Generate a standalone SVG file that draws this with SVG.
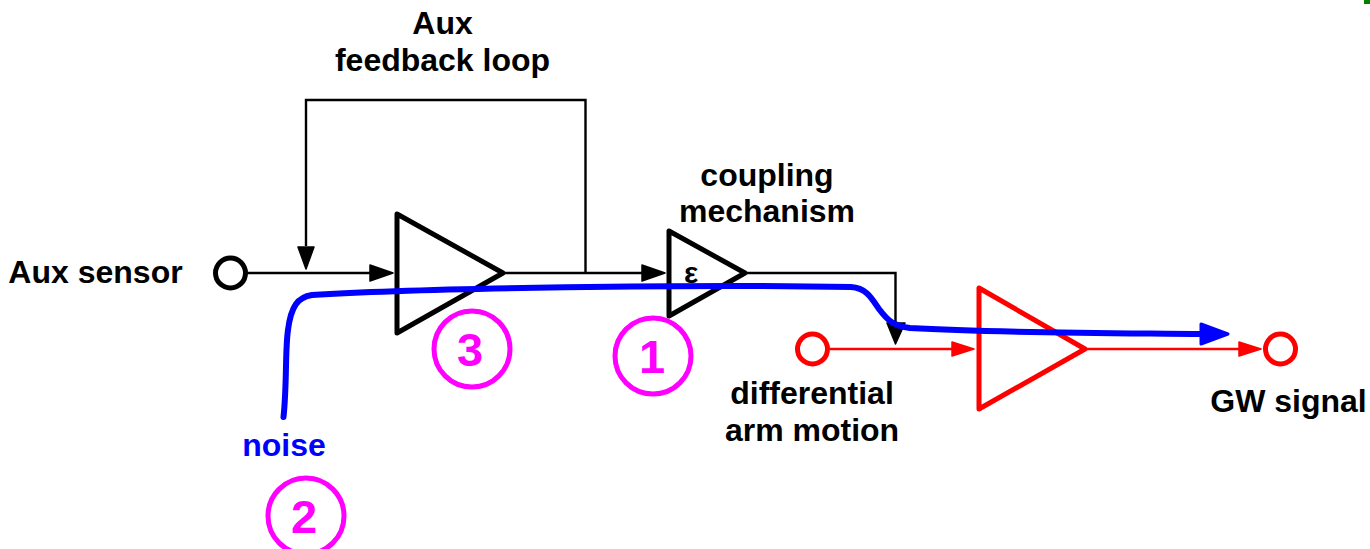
<svg xmlns="http://www.w3.org/2000/svg" width="1370" height="549" viewBox="0 0 1370 549">
<style>
text{font-family:"Liberation Sans",Arial,sans-serif;font-weight:700;font-size:32px;text-anchor:middle;fill:#000}
.tri{fill:none;stroke:#000;stroke-width:5;stroke-linejoin:round}
.red{stroke:#f00}
.port{fill:#fff;stroke:#000;stroke-width:5}
.w{fill:none;stroke:#000;stroke-width:2.4}
.r{fill:none;stroke:#f00;stroke-width:2.4}
.head{fill:#000;stroke:#000;stroke-width:1.5;stroke-linejoin:round}
.rhead{fill:#f00;stroke:#f00;stroke-width:1.5;stroke-linejoin:round}
.mark{fill:none;stroke:#f0f;stroke-width:5}
.mt{fill:#f0f;font-size:47px}
</style>
<rect x="1364" y="0" width="6" height="4" fill="#008000"/>
<g id="connectors">
<path class="w" d="M247 273H372M306 246V100H585.500V273M505 273H646M745 273H895.500V325"/>
<path class="r" d="M830 349H952M1086 349H1240"/>
<path class="head" d="M370 265L393 273L370 281ZM298 247H314L306 269ZM642 265L665 273L642 281ZM887 323H905L895.500 344Z"/>
<path class="rhead" d="M952 342L974 349L952 356ZM1239 342L1261 349L1239 356Z"/>
</g>
<g id="aux-sensor"><circle class="port" cx="230.500" cy="273" r="15"/><text x="95.500" y="283">Aux sensor</text></g>
<g id="aux-loop-label"><text x="442.500" y="34">Aux</text><text x="442.500" y="71">feedback loop</text></g>
<g id="amp-aux"><path class="tri" d="M397 214V333L503 273Z"/></g>
<g id="coupling"><path class="tri" d="M669 231V316L745 273Z"/><text x="691" y="283" style="font-size:30px">ε</text><text x="767" y="186">coupling</text><text x="767" y="222">mechanism</text></g>
<g id="differential"><circle class="port red" cx="812.500" cy="349" r="15" style="stroke:#f00"/><text x="812" y="404">differential</text><text x="812" y="441">arm motion</text></g>
<g id="amp-main"><path class="tri red" d="M979 288V409L1085 349Z"/></g>
<g id="gw-signal"><circle class="port" cx="1280.500" cy="349" r="15" style="stroke:#f00"/><text x="1288.500" y="412">GW signal</text></g>
<g id="noise"><path d="M283.500 417C287 385 285 350 288 330C291 306 298 297 312 295C420 288 700 284 851 287C866 288 871 297 879 309C888 321 894 326 910 328C1000 333 1110 333 1202 334" fill="none" stroke="#00f" stroke-width="6" stroke-linecap="round"/><path d="M1201 324L1228 334L1201 344Z" fill="#00f" stroke="#00f" stroke-width="3" stroke-linejoin="round"/><text x="284" y="456" style="fill:#00f">noise</text></g>
<g id="mark-1"><circle class="mark" cx="653" cy="356" r="38"/><text class="mt" x="652" y="373">1</text></g>
<g id="mark-2"><circle class="mark" cx="306" cy="516" r="38"/><text class="mt" x="304" y="533">2</text></g>
<g id="mark-3"><circle class="mark" cx="472" cy="349" r="38"/><text class="mt" x="470" y="366">3</text></g>
</svg>
